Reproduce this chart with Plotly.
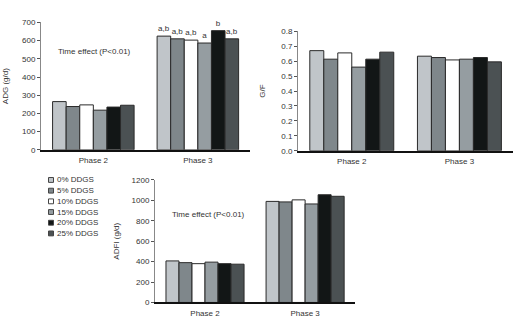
import plotly.graph_objects as go

phases = ["Phase 2", "Phase 3"]
levels = ["0% DDGS", "5% DDGS", "10% DDGS", "15% DDGS", "20% DDGS", "25% DDGS"]
colors = ["#c0c5c9", "#7f878b", "#ffffff", "#959da1", "#121616", "#4b5153"]

adg = [
    [265, 625],
    [238, 610],
    [247, 603],
    [218, 587],
    [235, 655],
    [245, 610],
]
adg_letters = [
    ["", "a,b"],
    ["", "a,b"],
    ["", "a,b"],
    ["", "a"],
    ["", "b"],
    ["", "a,b"],
]
gf = [
    [0.670, 0.633],
    [0.613, 0.624],
    [0.655, 0.608],
    [0.560, 0.613],
    [0.613, 0.624],
    [0.660, 0.595],
]
adfi = [
    [407, 990],
    [390, 985],
    [380, 1005],
    [395, 965],
    [380, 1055],
    [375, 1040],
]

FONT = "Arial, Liberation Sans, sans-serif"
TXT = "#333333"
OUTLINE = "#2a2a2a"
W, H = 520, 323

fig = go.Figure()

for i, lvl in enumerate(levels):
    common = dict(
        x=phases,
        marker=dict(color=colors[i], line=dict(color=OUTLINE, width=1)),
        showlegend=False,
        name=lvl,
    )
    fig.add_trace(go.Bar(y=adg[i], xaxis="x", yaxis="y",
                         text=adg_letters[i], textposition="outside",
                         textfont=dict(size=8, color=TXT, family=FONT),
                         cliponaxis=False, **common))
    fig.add_trace(go.Bar(y=gf[i], xaxis="x2", yaxis="y2", **common))
    fig.add_trace(go.Bar(y=adfi[i], xaxis="x3", yaxis="y3", **common))

# compact key: small swatch + label per diet level
key_shapes, key_notes = [], []
for i, lvl in enumerate(levels):
    cy = 181 + 11 * i
    key_shapes.append(dict(type="rect", xref="paper", yref="paper",
                           x0=48.5 / W, x1=53.5 / W,
                           y0=1 - (cy + 2.5) / H, y1=1 - (cy - 2.5) / H,
                           fillcolor=colors[i], line=dict(color="#444444", width=1)))
    key_notes.append(dict(text=lvl, xref="paper", yref="paper",
                          x=54.5 / W, y=1 - cy / H, xanchor="left", yanchor="middle",
                          showarrow=False, font=dict(size=8, color=TXT, family=FONT)))

xbase = dict(showgrid=False, zeroline=False, showline=True, linecolor="#111111",
             linewidth=2, ticks="outside", ticklen=2, tickcolor="rgba(0,0,0,0)",
             tickfont=dict(size=8, color=TXT, family=FONT), fixedrange=True)
ybase = dict(showgrid=False, zeroline=False, showline=True, linecolor="#888888",
             linewidth=1, ticks="outside", ticklen=3, tickcolor="#555555",
             tickfont=dict(size=8, color=TXT, family=FONT), fixedrange=True)

fig.update_layout(
    width=W, height=H, autosize=False,
    margin=dict(l=0, r=0, t=0, b=0),
    paper_bgcolor="white", plot_bgcolor="white",
    font=dict(family=FONT, size=8, color=TXT),
    barmode="group", bargap=0.22, bargroupgap=0,
    uniformtext=dict(minsize=7, mode="show"),
    showlegend=False,
    xaxis=dict(domain=[0.079, 0.481], anchor="y", **xbase),
    yaxis=dict(domain=[0.5356, 0.9412], anchor="x", range=[0, 700], dtick=100,
               title=dict(text="ADG (g/d)", font=dict(size=8, color=TXT), standoff=12),
               **ybase),
    xaxis2=dict(domain=[0.573, 0.987], anchor="y2", **xbase),
    yaxis2=dict(domain=[0.5325, 0.9133], anchor="x2", range=[0, 0.8], dtick=0.1,
                tickformat=".1f",
                title=dict(text="G/F", font=dict(size=8, color=TXT), standoff=14),
                **ybase),
    xaxis3=dict(domain=[0.298, 0.683], anchor="y3", **xbase),
    yaxis3=dict(domain=[0.0495, 0.4396], anchor="x3", range=[0, 1200], dtick=200,
                title=dict(text="ADFI (g/d)", font=dict(size=8, color=TXT), standoff=10),
                **ybase),
    shapes=key_shapes,
    annotations=[
        dict(text="Time effect (P<0.01)", xref="x domain", yref="y domain",
             x=0.07, y=0.77, xanchor="left", yanchor="middle", showarrow=False,
             font=dict(size=8, color=TXT, family=FONT)),
        dict(text="Time effect (P<0.01)", xref="x3 domain", yref="y3 domain",
             x=0.075, y=0.72, xanchor="left", yanchor="middle", showarrow=False,
             font=dict(size=8, color=TXT, family=FONT)),
    ] + key_notes,
)

fig.write_html("out.html")
